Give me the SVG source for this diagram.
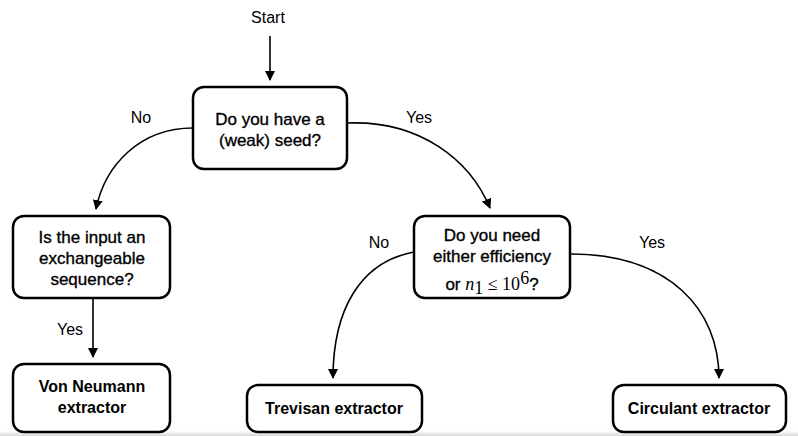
<svg xmlns="http://www.w3.org/2000/svg" width="798" height="436" viewBox="0 0 798 436">
<defs>
<marker id="ah" viewBox="0 0 10 10" refX="9" refY="5" markerWidth="10" markerHeight="10" markerUnits="userSpaceOnUse" orient="auto">
<path d="M0,0 L10,5 L0,10 z" fill="#000"/>
</marker>
<linearGradient id="sh" x1="0" y1="0" x2="0" y2="1">
<stop offset="0" stop-color="#ffffff"/>
<stop offset="1" stop-color="#d8d8d8"/>
</linearGradient>
</defs>
<style>
.box{fill:#fff;stroke:#000;stroke-width:2.5}
.t{font-family:"Liberation Sans",Arial,sans-serif;font-size:17px;fill:#000;stroke:#000;stroke-width:0.35;text-anchor:middle}
.b{font-weight:bold;font-size:16px;stroke:none}
.lbl{font-family:"Liberation Sans",Arial,sans-serif;font-size:16px;fill:#000;text-anchor:middle}
.m{font-family:"Liberation Serif","Times New Roman",serif;font-size:18px;stroke:none}
.c{fill:none;stroke:#000;stroke-width:1.6;marker-end:url(#ah)}
</style>
<rect x="0" y="0" width="798" height="436" fill="#fff"/>
<rect x="0" y="431" width="798" height="5" fill="url(#sh)"/>
<g id="connectors">
<path class="c" d="M270,36 L270,80"/>
<path class="c" d="M193,128 C140,128 105,165 96,209"/>
<path class="c" d="M347,123 C420,120 470,160 490,208"/>
<path class="c" d="M93,298 L93,357"/>
<path class="c" d="M414,252 C360,262 333,310 333,378"/>
<path class="c" d="M570,254 C670,254 719,310 719,378"/>
</g>
<g id="labels">
<text class="lbl" x="268" y="23">Start</text>
<text class="lbl" x="141" y="123">No</text>
<text class="lbl" x="419" y="123">Yes</text>
<text class="lbl" x="70" y="335">Yes</text>
<text class="lbl" x="379" y="248">No</text>
<text class="lbl" x="652" y="248">Yes</text>
</g>
<g id="seed">
<rect class="box" x="193" y="87" width="154" height="82" rx="11"/>
<text class="t" x="270" y="125">Do you have a</text>
<text class="t" x="270" y="146">(weak) seed?</text>
</g>
<g id="exchangeable">
<rect class="box" x="13" y="216" width="157" height="82" rx="11"/>
<text class="t" x="92" y="243">Is the input an</text>
<text class="t" x="92" y="264">exchangeable</text>
<text class="t" x="92" y="285">sequence?</text>
</g>
<g id="efficiency">
<rect class="box" x="414" y="216" width="156" height="82" rx="11"/>
<text class="t" x="492" y="241">Do you need</text>
<text class="t" x="492" y="262">either efficiency</text>
<text class="t" x="492" y="290">or <tspan class="m" font-style="italic">n</tspan><tspan class="m" font-size="12" dy="4">1</tspan><tspan class="m" dy="-4"> ≤ 10</tspan><tspan class="m" font-size="11" dy="-6">6</tspan><tspan dy="6">?</tspan></text>
</g>
<g id="vonneumann">
<rect class="box" x="13" y="364" width="157" height="68" rx="11"/>
<text class="t b" x="92" y="392">Von Neumann</text>
<text class="t b" x="92" y="413">extractor</text>
</g>
<g id="trevisan">
<rect class="box" x="247" y="385" width="175" height="47" rx="11"/>
<text class="t b" x="334" y="414">Trevisan extractor</text>
</g>
<g id="circulant">
<rect class="box" x="613" y="385" width="173" height="47" rx="11"/>
<text class="t b" x="699" y="414">Circulant extractor</text>
</g>
</svg>
